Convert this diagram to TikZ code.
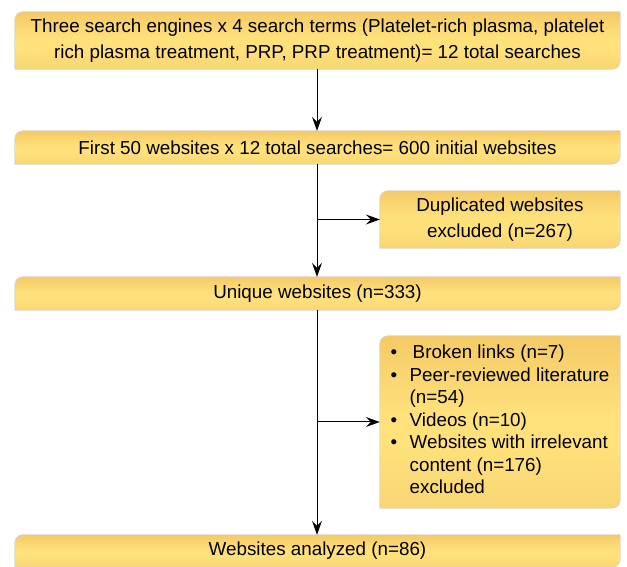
\documentclass[tikz,border=0pt]{standalone}
\usepackage{fontspec}
\setmainfont{Liberation Sans}
\usetikzlibrary{arrows.meta,backgrounds,calc}
\definecolor{gtop}{HTML}{F4CA66}
\definecolor{gmid}{HTML}{FFE17C}
\definecolor{gbot}{HTML}{F8D673}
\definecolor{gedge}{HTML}{DCD6CA}
\pgfdeclareverticalshading{goldsh}{100bp}{color(0bp)=(gbot); color(25bp)=(gbot); color(43bp)=(gmid); color(52bp)=(gmid); color(75bp)=(gtop); color(100bp)=(gtop)}
\tikzset{
  flowbox/.style={inner sep=0pt, font=\fontsize{18.8}{26.5}\selectfont, align=center},
  arr/.style={-{Stealth[length=14pt,width=10pt,inset=5pt]}, line width=1pt},
  conn/.style={line width=1pt},
  gfill/.style={shading=goldsh, draw=gedge, line width=0.8pt},
}
\newcommand\goldbox[1]{\path[gfill] (#1.south west) -- ([yshift=-8pt]#1.north west) arc[start angle=180,end angle=90,radius=8pt] -- (#1.north east) -- ([yshift=8pt]#1.south east) arc[start angle=0,end angle=-90,radius=8pt] -- cycle;}
\begin{document}
\begin{tikzpicture}[x=1pt,y=1pt]
\useasboundingbox (0,0) rectangle (627,567);
\node[flowbox, minimum width=605pt, minimum height=57pt] (b1) at (317.5,526.5)
  {Three search engines x 4 search terms (Platelet-rich plasma, platelet\\rich plasma treatment, PRP, PRP treatment)= 12 total searches};
\node[flowbox, minimum width=605pt, minimum height=33pt] (b2) at (317.5,419.5)
  {First 50 websites x 12 total searches= 600 initial websites};
\node[flowbox, minimum width=240pt, minimum height=57pt] (b3) at (500,347.5)
  {Duplicated websites\\excluded (n=267)};
\node[flowbox, minimum width=605pt, minimum height=33pt] (b4) at (317.5,273.5)
  {Unique websites (n=333)};
\node[inner sep=0pt, minimum width=240pt, minimum height=172pt, font=\fontsize{18.8}{22.5}\selectfont] (b5) at (500,145)
  {\begin{tabular}{@{}l@{}l@{}}
   \makebox[19pt][l]{\textbullet} & \hspace{3pt}Broken links (n=7)\\
   \makebox[19pt][l]{\textbullet} & Peer-reviewed literature\\
   & (n=54)\\
   \makebox[19pt][l]{\textbullet} & Videos (n=10)\\
   \makebox[19pt][l]{\textbullet} & Websites with irrelevant\\
   & content (n=176)\\
   & excluded
  \end{tabular}};
\node[flowbox, minimum width=605pt, minimum height=32pt] (b6) at (317.5,16)
  {Websites analyzed (n=86)};
\begin{scope}[on background layer]
  \goldbox{b1}\goldbox{b2}\goldbox{b3}\goldbox{b4}\goldbox{b5}\goldbox{b6}
\end{scope}
\coordinate (j1) at (317,347.5);
\coordinate (j2) at (317,145);
\draw[arr] (b1.south -| j1) -- (b2.north -| j1);
\draw[arr] (b2.south -| j1) -- (b4.north -| j1);
\draw[arr] (j1) -- (b3.west);
\draw[arr] (b4.south -| j2) -- (b6.north -| j2);
\draw[arr] (j2) -- (b5.west);
\end{tikzpicture}
\end{document}
